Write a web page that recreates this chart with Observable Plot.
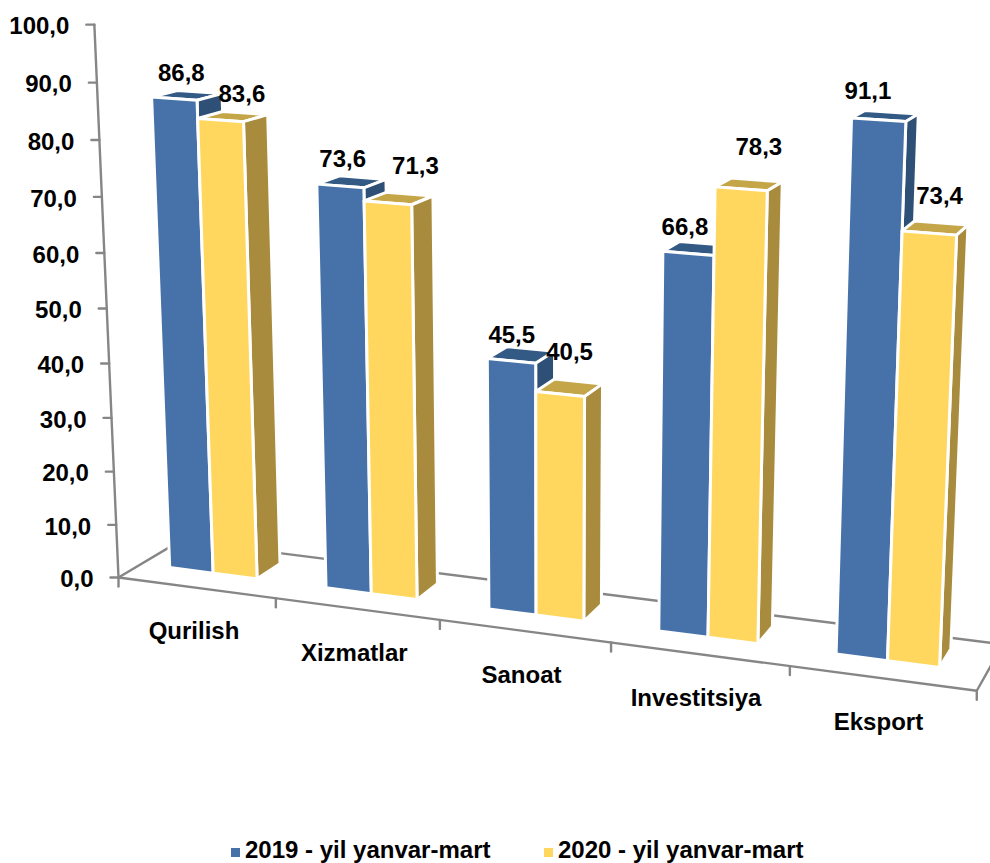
<!DOCTYPE html>
<html><head><meta charset="utf-8">
<style>
html,body{margin:0;padding:0;background:#fff;overflow:hidden}
#legend{position:relative;height:33px;width:990px;overflow:hidden;font:bold 24px "Liberation Sans",Arial,sans-serif;color:#000}
#legend span{position:absolute;white-space:nowrap;line-height:26px;top:7px}
#legend i{position:absolute;width:9px;height:9px;top:18px}
svg{display:block}
</style>
<script src="https://cdn.jsdelivr.net/npm/d3@7"></script>
<script src="https://cdn.jsdelivr.net/npm/@observablehq/plot@0.6"></script>
</head><body>
<div id="chart"></div>
<div id="legend"></div>
<script>
const categories = ["Qurilish","Xizmatlar","Sanoat","Investitsiya","Eksport"];
const series2019 = [86.8,73.6,45.5,66.8,91.1];
const series2020 = [83.6,71.3,40.5,78.3,73.4];
const seriesNames = ["2019 - yil yanvar-mart","2020 - yil yanvar-mart"];
const valueTicks = [0,10,20,30,40,50,60,70,80,90,100];

const W = 990, H = 830;
const fmt = v => v.toFixed(1).replace(".", ",");

// Perspective camera: origin and three vanishing points of the chart box.
const O = [118,577], VX = [-7430,-419], VV = [552,10515], VD = [1500,-244];
const AX = -0.02042, AV = -0.000527, AD = 0.047;
function P(X, V, D) {
  const a = AX*X, b = AV*V, c = AD*D, w = 1+a+b+c;
  return {x:(O[0]+a*VX[0]+b*VV[0]+c*VD[0])/w, y:(O[1]+a*VX[1]+b*VV[1]+c*VD[1])/w};
}

const palette = [
  {front:"#4672A9", top:"#335A85", side:"#2E4F76"},
  {front:"#FFD75E", top:"#C4A648", side:"#A88B3C"}
];
const barStart = 0.185, barW = 0.282, d0 = 0.36, d1 = 0.76;

// hand-placed data-label nudges (px), one pair per bar
const nudge2019 = [[-17,-1],[-19,-1],[-18,4],[-19,1],[-23,-3]];
const nudge2020 = [[-2,-1],[7,-10],[-8,-12],[3,-15],[-1,-9]];

const marks = [];
const path = (pts, o) => marks.push(Plot.line(pts, {x:"x", y:"y", ...o}));
const grey = {stroke:"#868686", strokeWidth:2.4};

// floor and axes
path([P(0,0,1),P(5,0,1)], grey);
path([P(0,0,0),P(0,0,1)], grey);
path([P(5,0,0),P(5,0,1)], grey);
path([P(0,0,0),P(5,0,0)], grey);
path([P(0,0,0),P(0,100,0)], grey);
for (const v of valueTicks) { const p = P(0,v,0); path([p,{x:p.x-8,y:p.y}], grey); }
d3.range(0,6).forEach(i => { const p = P(i,0,0); path([p,{x:p.x,y:p.y+9}], grey); });

// bars
const edge = {stroke:"white", strokeWidth:3, strokeLinejoin:"round", curve:"linear-closed"};
const labels = [];
categories.forEach((c,i) => {
  [series2019[i], series2020[i]].forEach((v,s) => {
    const a = i+barStart+s*barW, b = a+barW, col = palette[s];
    path([P(a,v,d0),P(b,v,d0),P(b,v,d1),P(a,v,d1)], {...edge, fill:col.top});
    path([P(b,0,d0),P(b,v,d0),P(b,v,d1),P(b,0,d1)], {...edge, fill:col.side});
    path([P(a,0,d0),P(b,0,d0),P(b,v,d0),P(a,v,d0)], {...edge, fill:col.front});
    const t = P((a+b)/2, v, 0.74), n = (s ? nudge2020 : nudge2019)[i];
    labels.push({x:t.x+n[0], y:t.y-18+n[1], text:fmt(v)});
  });
});

const font = {fontFamily:"Liberation Sans, Arial, sans-serif", fontWeight:"bold", fontSize:24, fill:"#000"};
marks.push(Plot.text(labels, {x:"x", y:"y", text:"text", ...font}));
marks.push(Plot.text(valueTicks.map(v => { const p = P(0,v,0); return {x:p.x-25, y:p.y+2, text:fmt(v)}; }),
  {x:"x", y:"y", text:"text", textAnchor:"end", ...font}));
marks.push(Plot.text(categories.map((c,i) => { const p = P(i+0.45,0,0); return {x:p.x+5.5, y:p.y+45, text:c}; }),
  {x:"x", y:"y", text:"text", ...font}));

const plot = Plot.plot({
  width:W, height:H, margin:0,
  x:{domain:[0,W], range:[0,W], axis:null},
  y:{domain:[0,H], range:[0,H], axis:null},
  marks
});
plot.style.background = "#fff";
document.getElementById("chart").append(plot);

const leg = document.getElementById("legend");
[[231,245],[544,558]].forEach(([mx,tx],k) => {
  const m = document.createElement("i"); m.style.left = mx+"px"; m.style.background = palette[k].front;
  const s = document.createElement("span"); s.style.left = tx+"px"; s.textContent = seriesNames[k];
  leg.append(m,s);
});
</script>
</body></html>
